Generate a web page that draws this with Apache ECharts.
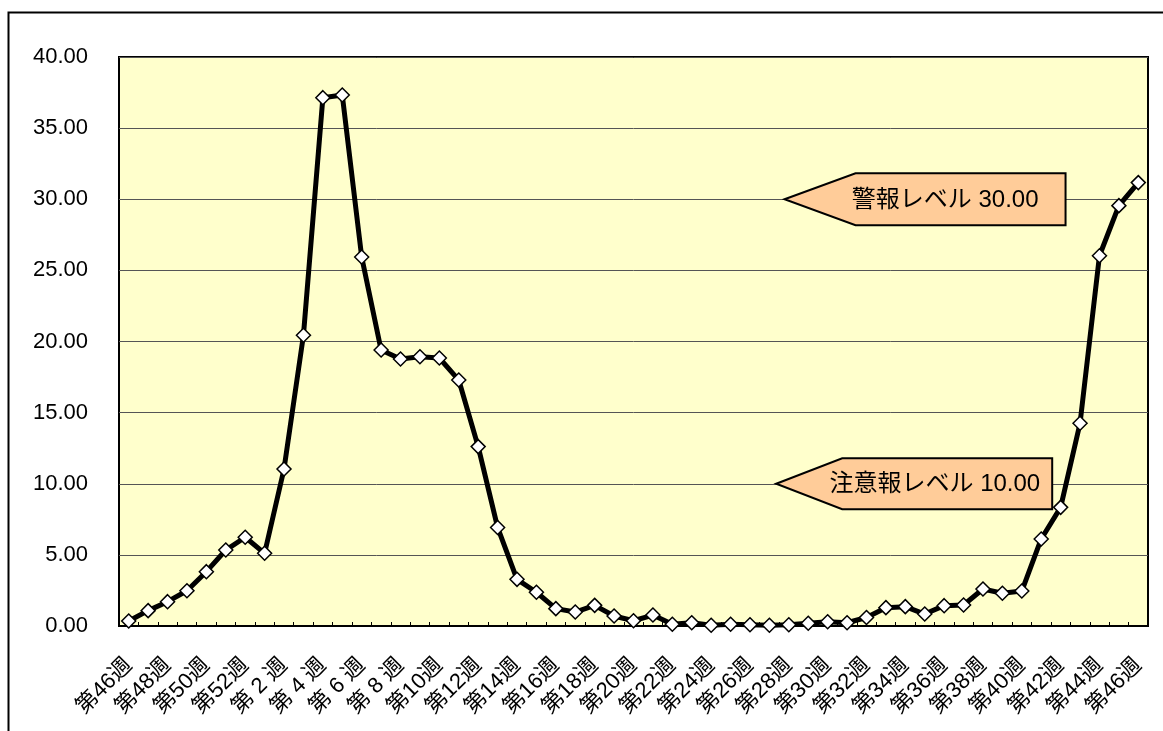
<!DOCTYPE html>
<html>
<head>
<meta charset="utf-8">
<script src="https://cdn.jsdelivr.net/npm/echarts@6/dist/echarts.min.js"></script>
<style>
html,body{margin:0;padding:0;background:#fff;}
#chart{width:1163px;height:731px;}
</style>
</head>
<body>
<div id="chart"></div>
<script>
// Week categories (week 46 of previous year through week 46)
const weeks = [46,47,48,49,50,51,52,1,2,3,4,5,6,7,8,9,10,11,12,13,14,15,16,17,18,19,20,21,22,23,24,25,26,27,28,29,30,31,32,33,34,35,36,37,38,39,40,41,42,43,44,45,46];
const categories = weeks.map(w => w < 10 ? '第 ' + w + ' 週' : '第' + w + '週');

// Per-sentinel values
const values = [0.35,1.08,1.71,2.48,3.82,5.34,6.24,5.11,11.04,20.44,37.14,37.33,25.94,19.40,18.77,18.93,18.84,17.29,12.61,6.93,3.28,2.37,1.22,0.98,1.45,0.70,0.37,0.77,0.12,0.23,0.05,0.12,0.09,0.05,0.09,0.19,0.30,0.23,0.60,1.29,1.36,0.84,1.43,1.48,2.60,2.30,2.46,6.12,8.34,14.25,26.03,29.55,31.17];

// Y axis ticks
const yMin = 0, yMax = 40, yStep = 5;

// Level callouts: [anchor position on hidden value x-axis, level, text]
const calloutLevels = [30, 10];
const calloutTexts = ['警報レベル 30.00', '注意報レベル 10.00'];
const calloutAnchors = [34.28, 33.85];

const chart = echarts.init(document.getElementById('chart'));
const FONT = '"Liberation Sans", "Noto Sans CJK JP", sans-serif';

const calloutGeom = [
  {tri: 71, w: 210, h: 52, pad: 27},
  {tri: 66, w: 210, h: 51, pad: 12}
];

chart.setOption({
  backgroundColor: '#ffffff',
  animation: false,
  textStyle: {fontFamily: FONT},
  graphic: [{
    type: 'rect',
    shape: {x: 8.5, y: 12.5, width: 1200, height: 800},
    style: {fill: 'none', stroke: '#000', lineWidth: 2},
    z: 100
  }],
  grid: {
    left: 119, top: 57, right: 15, bottom: 105,
    show: true, backgroundColor: '#FFFFCC', borderColor: '#000', borderWidth: 2
  },
  xAxis: [{
    type: 'category',
    data: categories,
    boundaryGap: true,
    axisLine: {show: true, lineStyle: {color: '#000', width: 2}},
    axisTick: {show: true, inside: true, length: 4, interval: 0, lineStyle: {color: '#000', width: 1}},
    axisLabel: {interval: 1, rotate: 45, fontSize: 22, color: '#000', margin: 36, fontFamily: FONT},
    splitLine: {show: false}
  }, {
    type: 'value', min: 0, max: weeks.length, show: false
  }],
  yAxis: {
    type: 'value', min: yMin, max: yMax, interval: yStep,
    axisLine: {show: false},
    axisTick: {show: false},
    axisLabel: {formatter: v => v.toFixed(2), fontSize: 22, color: '#000', margin: 31, fontFamily: '"Liberation Sans", sans-serif'},
    splitLine: {show: true, lineStyle: {color: '#555', width: 1}}
  },
  series: [{
    type: 'line',
    data: values,
    xAxisIndex: 0,
    symbol: 'diamond',
    symbolSize: 14,
    showAllSymbol: true,
    lineStyle: {color: '#000', width: 5},
    itemStyle: {color: '#fff', borderColor: '#000', borderWidth: 1.5},
    z: 5
  }, {
    type: 'custom',
    xAxisIndex: 1,
    yAxisIndex: 0,
    z: 4,
    data: calloutLevels.map((lv, i) => [calloutAnchors[i], lv, i]),
    renderItem: function (params, api) {
      const i = api.value(2);
      const g = calloutGeom[i];
      const p = api.coord([api.value(0), api.value(1)]);
      const x0 = p[0], y0 = p[1];
      const hh = g.h / 2;
      return {
        type: 'group',
        children: [{
          type: 'polygon',
          shape: {points: [[x0, y0], [x0 + g.tri, y0 - hh], [x0 + g.tri + g.w, y0 - hh], [x0 + g.tri + g.w, y0 + hh], [x0 + g.tri, y0 + hh]]},
          style: {fill: '#FFCC99', stroke: '#000', lineWidth: 2}
        }, {
          type: 'text',
          style: {
            text: calloutTexts[i],
            x: x0 + g.tri + g.w - g.pad, y: y0 + 1,
            align: 'right', verticalAlign: 'middle',
            font: '24px ' + FONT, fill: '#000'
          }
        }]
      };
    }
  }]
});
</script>
</body>
</html>
